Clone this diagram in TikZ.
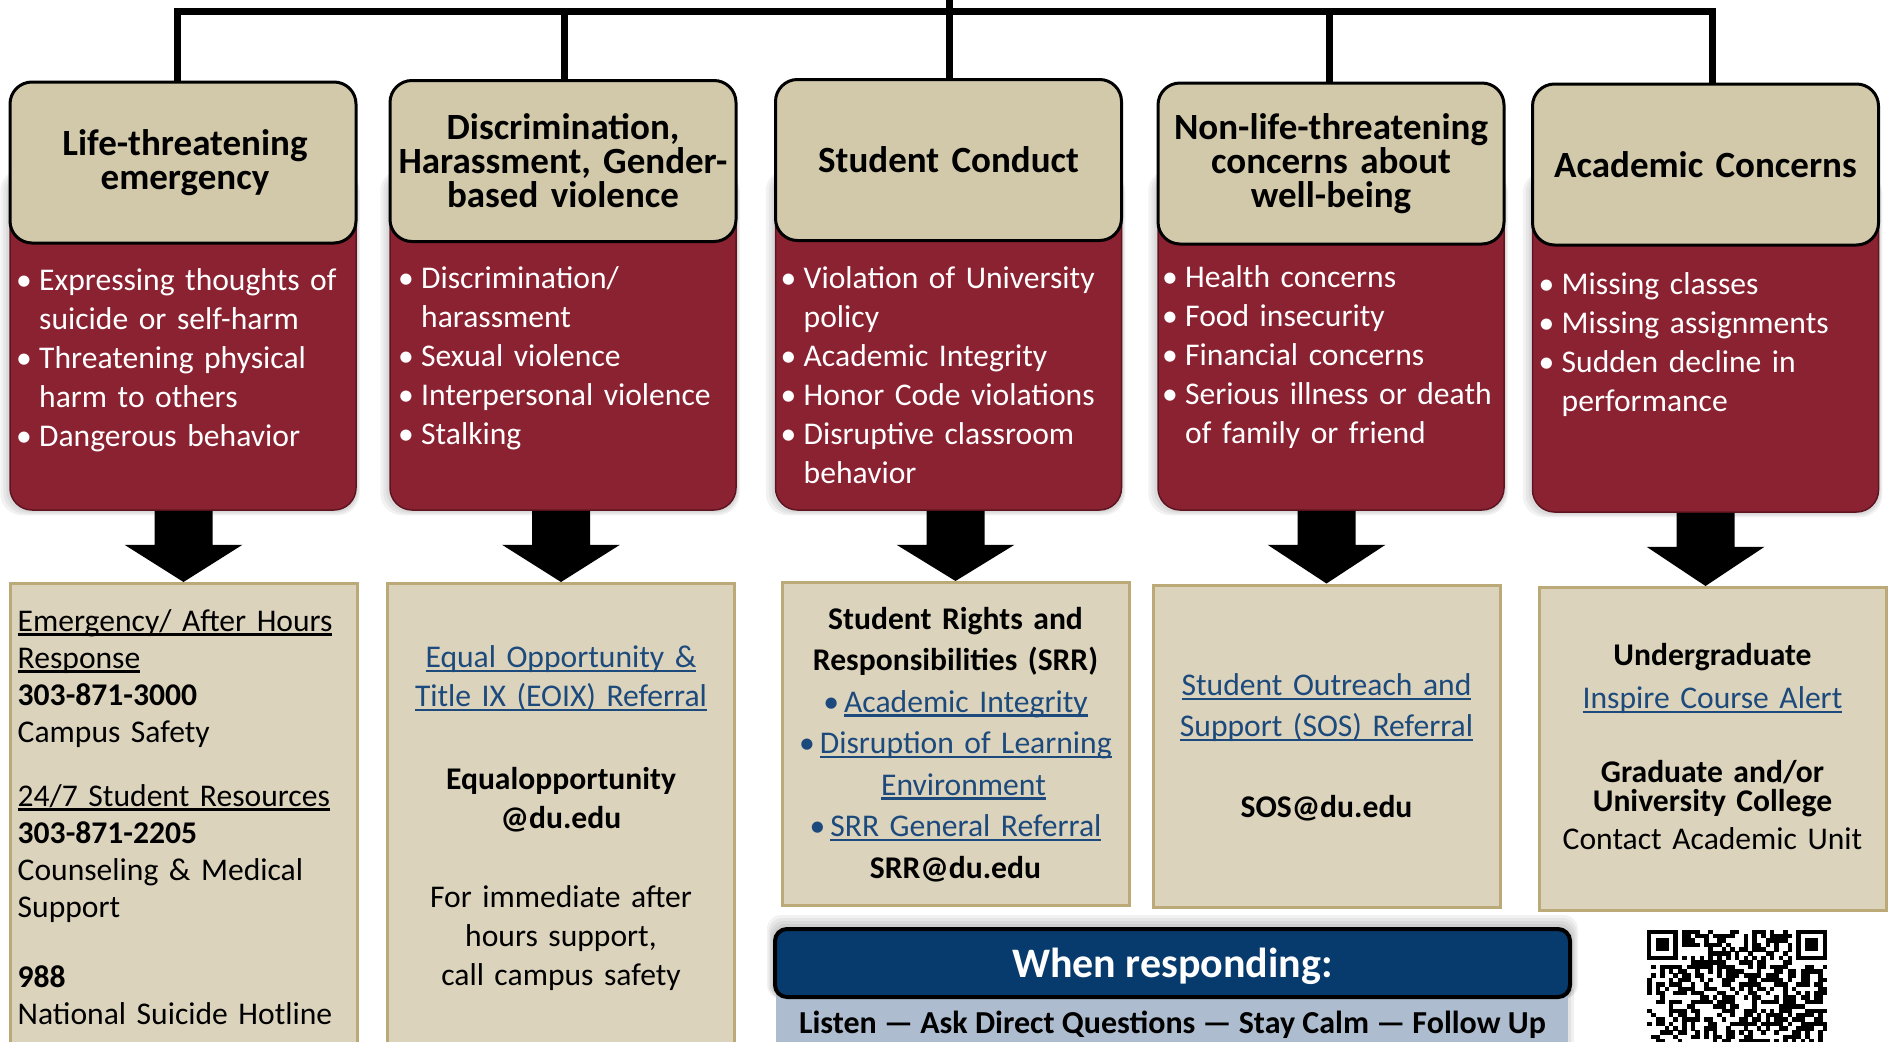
\documentclass[tikz,border=0pt]{standalone}
\usepackage{fontspec}
\setmainfont{Carlito}
\usetikzlibrary{positioning,calc,backgrounds}

\definecolor{headtan}{HTML}{D2C9AB}
\definecolor{bodyred}{HTML}{8B2232}
\definecolor{bodyline}{HTML}{5E1521}
\definecolor{infotan}{HTML}{DBD3BC}
\definecolor{infoline}{HTML}{BBA977}
\definecolor{navy}{HTML}{083B6D}
\definecolor{paleblue}{HTML}{ADBCCE}
\definecolor{linkblue}{HTML}{1D4A7C}

% underlined text and links
\newcommand\undl[1]{\leavevmode\setbox0\hbox{#1}\rlap{\rule[-4.5pt]{\wd0}{2.4pt}}\box0}
\newcommand\lnk[1]{{\color{linkblue}\undl{#1}}}
% bullet item with hanging lines
\newcommand\itm{\par\hangindent=16.5pt\hangafter=1\noindent
  \makebox[16.5pt][l]{\strut\hspace{-6.5pt}\textbullet}}

\tikzset{
  spine/.style={line width=7pt},
  head/.style={draw=black, line width=3pt, fill=headtan, rounded corners=22pt,
    minimum width=346pt, minimum height=161pt, text width=344pt, align=center,
    inner sep=0pt, font=\fontsize{37}{34}\selectfont\bfseries},
  body/.style={draw=bodyline, line width=1.5pt, fill=bodyred, rounded corners=22pt,
    minimum width=346pt, minimum height=340pt, inner sep=0pt},
  items/.style={text=white, text width=326pt, align=left, inner sep=0pt,
    font=\fontsize{31.6}{39}\selectfont},
  info/.style={draw=infoline, line width=3pt, fill=infotan, minimum width=347pt,
    inner sep=0pt, anchor=north},
  infotext/.style={text width=340pt, inner sep=0pt, font=\fontsize{31.6}{#1}\selectfont},
  infotext/.default=37,
  calm/.style={fill=paleblue, minimum width=792pt, minimum height=80pt, inner sep=0pt, anchor=north},
  nav/.style={fill=navy, draw=black, line width=4pt, rounded corners=12pt, minimum width=795pt,
    minimum height=68pt, text=white, text depth=0pt, font=\fontsize{42}{42}\selectfont\bfseries}
}

\begin{document}
\begin{tikzpicture}[x=1pt,y=-1pt]
  \path[use as bounding box] (0,0) rectangle (1889,1041);
  \clip (0,0) rectangle (1889,1041);

  % category columns
  \node[body] (b1) at (183,340) {};
  \node[head] (h1) at (183,162.5) {\hspace{4pt}Life-threatening\\\hspace{4pt}emergency};
  \node[items, below right=7pt and 14pt of h1.south west] (l1)
    {\itm Expressing thoughts of\newline suicide or self-harm
     \itm Threatening physical\newline harm to others
     \itm Dangerous behavior\par};

  \node[body] (b2) at (563,340) {};
  \node[head] (h2) at (563,161) {Discrimination,\\Harassment, Gender-\\based violence};
  \node[items, below right=6.5pt and 16pt of h2.south west] (l2)
    {\itm Discrimination/\newline harassment
     \itm Sexual violence
     \itm Interpersonal violence
     \itm Stalking\par};

  \node[body] (b3) at (948.5,340) {};
  \node[head] (h3) at (948.5,160) {Student Conduct};
  \node[items, below right=7.5pt and 13pt of h3.south west] (l3)
    {\itm Violation of University\newline policy
     \itm Academic Integrity
     \itm Honor Code violations
     \itm Disruptive classroom\newline behavior\par};

  \node[body] (b4) at (1331,340) {};
  \node[head] (h4) at (1331,163.5) {Non-life-threatening\\concerns about\\well-being};
  \node[items, below right=2.5pt and 12pt of h4.south west] (l4)
    {\itm Health concerns
     \itm Food insecurity
     \itm Financial concerns
     \itm Serious illness or death\newline of family or friend\par};

  \node[body] (b5) at (1705.5,342) {};
  \node[head] (h5) at (1705.5,164.5) {Academic Concerns};
  \node[items, below right=8.5pt and 14pt of h5.south west] (l5)
    {\itm Missing classes
     \itm Missing assignments
     \itm Sudden decline in\newline performance\par};

  % tree on top
  \coordinate (top) at (949,0);
  \coordinate (bar) at (949,11.5);
  \draw[spine] (top) -- (bar);
  \draw[spine] ([xshift=-6pt]h1.north) |- (bar) -| ([xshift=6.5pt]h5.north);
  \foreach \h/\dx in {h2/1,h3/0.5,h4/-2}
    \draw[spine] ([xshift=\dx pt]\h.north) -- ([xshift=\dx pt]\h.north |- bar);

  % referral boxes
  \node[info, minimum height=500pt] (r1) at (183.5,582) {};
  \node[infotext, align=left, below right=23pt and 9pt of r1.north west] (t1)
    {\strut\undl{Emergency/ After Hours}\\
     \undl{Response}\\
     \textbf{303-871-3000}\\
     Campus Safety\\[27pt]
     \undl{24/7 Student Resources}\\
     \textbf{303-871-2205}\\
     Counseling \& Medical\\
     Support\\[33pt]
     \textbf{988}\\
     National Suicide Hotline};

  \node[info, minimum height=500pt] (r2) at (561,582) {};
  \node[infotext=39, align=center, below=58pt of r2.north] (t2)
    {\strut\lnk{Equal Opportunity \&}\\
     \lnk{Title IX (EOIX) Referral}\\[44pt]
     \textbf{Equalopportunity}\\
     \textbf{@du.edu}\\[40pt]
     For immediate after\\
     hours support,\\
     call campus safety};

  \node[info, minimum height=323pt] (r3) at (955.5,581) {};
  \node[infotext=41.5, align=center, below=19pt of r3.north] (t3)
    {\strut\textbf{Student Rights and}\\
     \textbf{Responsibilities (SRR)}\\
     {\color{linkblue}\textbullet}\hspace{5pt}\lnk{Academic Integrity}\\
     {\color{linkblue}\textbullet}\hspace{5pt}\lnk{Disruption of Learning}\\
     \hspace{16pt}\lnk{Environment}\\
     {\color{linkblue}\textbullet}\hspace{5pt}\lnk{SRR General Referral}\\
     \textbf{SRR@du.edu}};

  \node[info, minimum height=322pt] (r4) at (1326.5,583.5) {};
  \node[infotext=41, align=center, below=83pt of r4.north] (t4)
    {\strut\lnk{Student Outreach and}\\
     \lnk{Support (SOS) Referral}\\[40pt]
     \textbf{SOS@du.edu}};

  \node[info, minimum height=323pt] (r5) at (1712.5,586) {};
  \node[infotext=38, align=center, below=53pt of r5.north] (t5)
    {\strut\textbf{Undergraduate}\\[5pt]
     \lnk{Inspire Course Alert}\\[36pt]
     \textbf{Graduate and/or}\\[-9pt]
     \textbf{University College}\\
     Contact Academic Unit};

  % block arrows
  \foreach \i/\ax in {1/r1,2/r2,3/r3,4/r4,5/b5}{
    \coordinate (p) at (\ax.north |- b\i.south);
    \fill ($(p)+(-29,0)$) -- ($(p)+(-29,34)$) -- ($(p)+(-59,34)$) -- (p |- r\i.north)
      -- ($(p)+(59,34)$) -- ($(p)+(29,34)$) -- ($(p)+(29,0)$) -- cycle;
  }

  % response banner
  \node[calm] (calm) at (1172,989) {};
  \node[nav] (nav) at (1172.5,963) {When responding:};
  \node[anchor=base, inner sep=0pt, font=\fontsize{32}{32}\selectfont\bfseries] (steps)
    at ($(nav.south)+(0,34)$) {Listen — Ask Direct Questions — Stay Calm — Follow Up};

  % QR code
  \begin{scope}[shift={(1647,929.5)}, x=4.39pt, y=-4.39pt]
    \pgfmathsetseed{31}
    \foreach \r in {0,...,25}
      \foreach \c in {0,...,40}{
        \pgfmathtruncatemacro\skipit{(\r<8)&&((\c<8)||(\c>32))}
        \pgfmathtruncatemacro\bit{(\r==6) ? mod(\c+1,2) : ((\c==6) ? mod(\r+1,2) : (rnd<0.5))}
        \ifnum\skipit=0 \ifnum\bit=1 \fill (\c,\r) rectangle ++(1.03,1.03); \fi\fi
      }
    \foreach \c in {0,34}{
      \fill (\c,0) rectangle ++(7,7);
      \fill[white] (\c+1,1) rectangle ++(5,5);
      \fill (\c+2,2) rectangle ++(3,3);
    }
  \end{scope}

  % soft shadows
  \begin{scope}[on background layer]
    \foreach \b in {b1,b2,b3,b4,b5}
      \foreach \s in {3,6,9}
        \fill[black, opacity=.05, rounded corners=22pt]
          ([shift={(-\s,0)}]\b.north west) rectangle ([shift={(\s/3,\s/2)}]\b.south east);
    \foreach \s in {3,6,9,12}
      \fill[black, opacity=.05, rounded corners=14pt]
        ([shift={(-\s/2,-\s)}]nav.north west) rectangle ([shift={(\s/2,0)}]nav.south east);
    \foreach \s in {3,6}
      \fill[black, opacity=.06] (calm.north west) rectangle ([shift={(\s,0)}]calm.south east);
  \end{scope}
\end{tikzpicture}
\end{document}
